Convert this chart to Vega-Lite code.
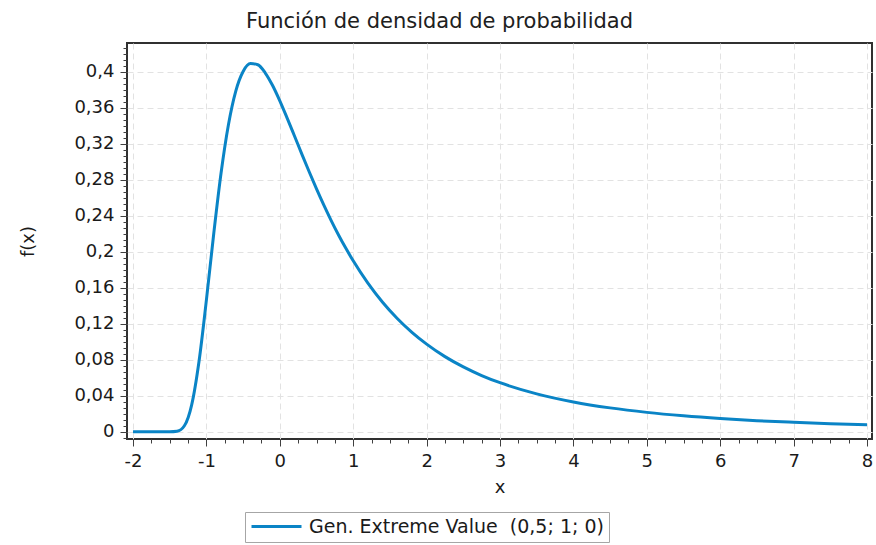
{
  "$schema": "https://vega.github.io/schema/vega-lite/v6.json",
  "autosize": {"type": "none"},
  "padding": {"left": 127, "top": 43, "right": 4, "bottom": 106},
  "width": 745,
  "height": 396,
  "background": "white",
  "title": {
    "text": "Función de densidad de probabilidad",
    "font": "DejaVu Sans",
    "fontSize": 21,
    "fontWeight": "normal",
    "color": "#202020",
    "anchor": "middle",
    "dx": -60,
    "dy": 21,
    "offset": 15,
    "baseline": "alphabetic"
  },
  "config": {
    "view": {"stroke": "#303030", "strokeWidth": 2},
    "axis": {
      "labelFont": "DejaVu Sans",
      "labelFontSize": 18,
      "labelColor": "#1a1a1a",
      "titleFont": "DejaVu Sans",
      "titleFontSize": 18,
      "titleFontWeight": "normal",
      "titleColor": "#1a1a1a",
      "tickColor": "#404040",
      "domain": false
    }
  },
  "data": {
    "values": [
      {"x": -2, "y": 0, "series": "Gen. Extreme Value\u00a0 (0,5; 1; 0)"},
      {"x": -1.5, "y": 0, "series": "Gen. Extreme Value\u00a0 (0,5; 1; 0)"},
      {"x": -1.4, "y": 0.00055, "series": "Gen. Extreme Value\u00a0 (0,5; 1; 0)"},
      {"x": -1.3, "y": 0.00665, "series": "Gen. Extreme Value\u00a0 (0,5; 1; 0)"},
      {"x": -1.2, "y": 0.03016, "series": "Gen. Extreme Value\u00a0 (0,5; 1; 0)"},
      {"x": -1.1, "y": 0.07866, "series": "Gen. Extreme Value\u00a0 (0,5; 1; 0)"},
      {"x": -1.0, "y": 0.14653, "series": "Gen. Extreme Value\u00a0 (0,5; 1; 0)"},
      {"x": -0.9, "y": 0.2204, "series": "Gen. Extreme Value\u00a0 (0,5; 1; 0)"},
      {"x": -0.8, "y": 0.2879, "series": "Gen. Extreme Value\u00a0 (0,5; 1; 0)"},
      {"x": -0.7, "y": 0.3414, "series": "Gen. Extreme Value\u00a0 (0,5; 1; 0)"},
      {"x": -0.6, "y": 0.3788, "series": "Gen. Extreme Value\u00a0 (0,5; 1; 0)"},
      {"x": -0.5, "y": 0.4006, "series": "Gen. Extreme Value\u00a0 (0,5; 1; 0)"},
      {"x": -0.4, "y": 0.4094, "series": "Gen. Extreme Value\u00a0 (0,5; 1; 0)"},
      {"x": -0.3, "y": 0.4080, "series": "Gen. Extreme Value\u00a0 (0,5; 1; 0)"},
      {"x": -0.2, "y": 0.3991, "series": "Gen. Extreme Value\u00a0 (0,5; 1; 0)"},
      {"x": -0.1, "y": 0.3852, "series": "Gen. Extreme Value\u00a0 (0,5; 1; 0)"},
      {"x": 0, "y": 0.3679, "series": "Gen. Extreme Value\u00a0 (0,5; 1; 0)"},
      {"x": 0.1, "y": 0.3487, "series": "Gen. Extreme Value\u00a0 (0,5; 1; 0)"},
      {"x": 0.2, "y": 0.3288, "series": "Gen. Extreme Value\u00a0 (0,5; 1; 0)"},
      {"x": 0.3, "y": 0.3087, "series": "Gen. Extreme Value\u00a0 (0,5; 1; 0)"},
      {"x": 0.4, "y": 0.2890, "series": "Gen. Extreme Value\u00a0 (0,5; 1; 0)"},
      {"x": 0.5, "y": 0.2700, "series": "Gen. Extreme Value\u00a0 (0,5; 1; 0)"},
      {"x": 0.6, "y": 0.2519, "series": "Gen. Extreme Value\u00a0 (0,5; 1; 0)"},
      {"x": 0.7, "y": 0.2348, "series": "Gen. Extreme Value\u00a0 (0,5; 1; 0)"},
      {"x": 0.8, "y": 0.2188, "series": "Gen. Extreme Value\u00a0 (0,5; 1; 0)"},
      {"x": 0.9, "y": 0.2039, "series": "Gen. Extreme Value\u00a0 (0,5; 1; 0)"},
      {"x": 1.0, "y": 0.1900, "series": "Gen. Extreme Value\u00a0 (0,5; 1; 0)"},
      {"x": 1.2, "y": 0.1652, "series": "Gen. Extreme Value\u00a0 (0,5; 1; 0)"},
      {"x": 1.4, "y": 0.1440, "series": "Gen. Extreme Value\u00a0 (0,5; 1; 0)"},
      {"x": 1.6, "y": 0.1259, "series": "Gen. Extreme Value\u00a0 (0,5; 1; 0)"},
      {"x": 1.8, "y": 0.1105, "series": "Gen. Extreme Value\u00a0 (0,5; 1; 0)"},
      {"x": 2.0, "y": 0.0974, "series": "Gen. Extreme Value\u00a0 (0,5; 1; 0)"},
      {"x": 2.25, "y": 0.0835, "series": "Gen. Extreme Value\u00a0 (0,5; 1; 0)"},
      {"x": 2.5, "y": 0.0721, "series": "Gen. Extreme Value\u00a0 (0,5; 1; 0)"},
      {"x": 2.75, "y": 0.0625, "series": "Gen. Extreme Value\u00a0 (0,5; 1; 0)"},
      {"x": 3.0, "y": 0.0545, "series": "Gen. Extreme Value\u00a0 (0,5; 1; 0)"},
      {"x": 3.5, "y": 0.0421, "series": "Gen. Extreme Value\u00a0 (0,5; 1; 0)"},
      {"x": 4.0, "y": 0.0331, "series": "Gen. Extreme Value\u00a0 (0,5; 1; 0)"},
      {"x": 4.5, "y": 0.0265, "series": "Gen. Extreme Value\u00a0 (0,5; 1; 0)"},
      {"x": 5.0, "y": 0.0215, "series": "Gen. Extreme Value\u00a0 (0,5; 1; 0)"},
      {"x": 5.5, "y": 0.0177, "series": "Gen. Extreme Value\u00a0 (0,5; 1; 0)"},
      {"x": 6.0, "y": 0.0147, "series": "Gen. Extreme Value\u00a0 (0,5; 1; 0)"},
      {"x": 6.5, "y": 0.0123, "series": "Gen. Extreme Value\u00a0 (0,5; 1; 0)"},
      {"x": 7.0, "y": 0.0105, "series": "Gen. Extreme Value\u00a0 (0,5; 1; 0)"},
      {"x": 7.5, "y": 0.0089, "series": "Gen. Extreme Value\u00a0 (0,5; 1; 0)"},
      {"x": 8.0, "y": 0.0077, "series": "Gen. Extreme Value\u00a0 (0,5; 1; 0)"}
    ]
  },
  "layer": [
    {
      "mark": {"type": "line", "interpolate": "monotone", "strokeWidth": 3},
      "encoding": {
        "x": {
          "field": "x", "type": "quantitative",
          "scale": {"domain": [-2.082, 8.068], "nice": false, "zero": false},
          "axis": {
            "title": "x",
            "values": [-2, -1, 0, 1, 2, 3, 4, 5, 6, 7, 8],
            "labelExpr": "'' + datum.value",
            "tickSize": 7,
            "labelPadding": 6,
            "grid": true,
            "gridColor": "#e2e2e2",
            "gridDash": [6, 4],
            "titleY": 53,
            "titleBaseline": "alphabetic"
          }
        },
        "y": {
          "field": "y", "type": "quantitative",
          "scale": {"domain": [-0.0081, 0.4322], "nice": false, "zero": false},
          "axis": {
            "title": "f(x)",
            "values": [0, 0.04, 0.08, 0.12, 0.16, 0.2, 0.24, 0.28, 0.32, 0.36, 0.4],
            "labelExpr": "replace(format(datum.value, '.2~f'), '.', ',')",
            "tickSize": 7,
            "labelPadding": 6,
            "grid": true,
            "gridColor": "#e2e2e2",
            "gridDash": [6, 4],
            "titleX": -99,
            "titleY": 198,
            "titleBaseline": "middle",
            "titleAngle": -90
          }
        },
        "color": {
          "field": "series", "type": "nominal",
          "scale": {"range": ["#0a84c6"]},
          "legend": {
            "title": null,
            "orient": "none",
            "legendX": 118,
            "legendY": 469,
            "strokeColor": "#a6a6a6",
            "padding": 5,
            "symbolType": "M-1,0H5.25",
            "symbolSize": 256,
            "symbolStrokeWidth": 3,
            "labelFont": "DejaVu Sans",
            "labelFontSize": 19,
            "labelColor": "#1a1a1a",
            "labelOffset": 40,
            "labelLimit": 500
          }
        }
      }
    },
    {
      "mark": {"type": "point", "opacity": 0},
      "encoding": {
        "x": {
          "field": "x", "type": "quantitative",
          "axis": {
            "orient": "bottom",
            "title": null,
            "labels": false,
            "grid": false,
            "tickSize": 4,
            "values": [-2, -1.75, -1.5, -1.25, -1, -0.75, -0.5, -0.25, 0, 0.25, 0.5, 0.75, 1, 1.25, 1.5, 1.75, 2, 2.25, 2.5, 2.75, 3, 3.25, 3.5, 3.75, 4, 4.25, 4.5, 4.75, 5, 5.25, 5.5, 5.75, 6, 6.25, 6.5, 6.75, 7, 7.25, 7.5, 7.75, 8]
          }
        },
        "y": {
          "field": "y", "type": "quantitative",
          "axis": {
            "orient": "left",
            "title": null,
            "labels": false,
            "grid": false,
            "tickSize": 4,
            "values": [-0.00667, 0, 0.00667, 0.01333, 0.02, 0.02667, 0.03333, 0.04, 0.04667, 0.05333, 0.06, 0.06667, 0.07333, 0.08, 0.08667, 0.09333, 0.1, 0.10667, 0.11333, 0.12, 0.12667, 0.13333, 0.14, 0.14667, 0.15333, 0.16, 0.16667, 0.17333, 0.18, 0.18667, 0.19333, 0.2, 0.20667, 0.21333, 0.22, 0.22667, 0.23333, 0.24, 0.24667, 0.25333, 0.26, 0.26667, 0.27333, 0.28, 0.28667, 0.29333, 0.3, 0.30667, 0.31333, 0.32, 0.32667, 0.33333, 0.34, 0.34667, 0.35333, 0.36, 0.36667, 0.37333, 0.38, 0.38667, 0.39333, 0.4, 0.40667, 0.41333, 0.42, 0.42667]
          }
        }
      }
    }
  ],
  "resolve": {"axis": {"x": "independent", "y": "independent"}}
}
